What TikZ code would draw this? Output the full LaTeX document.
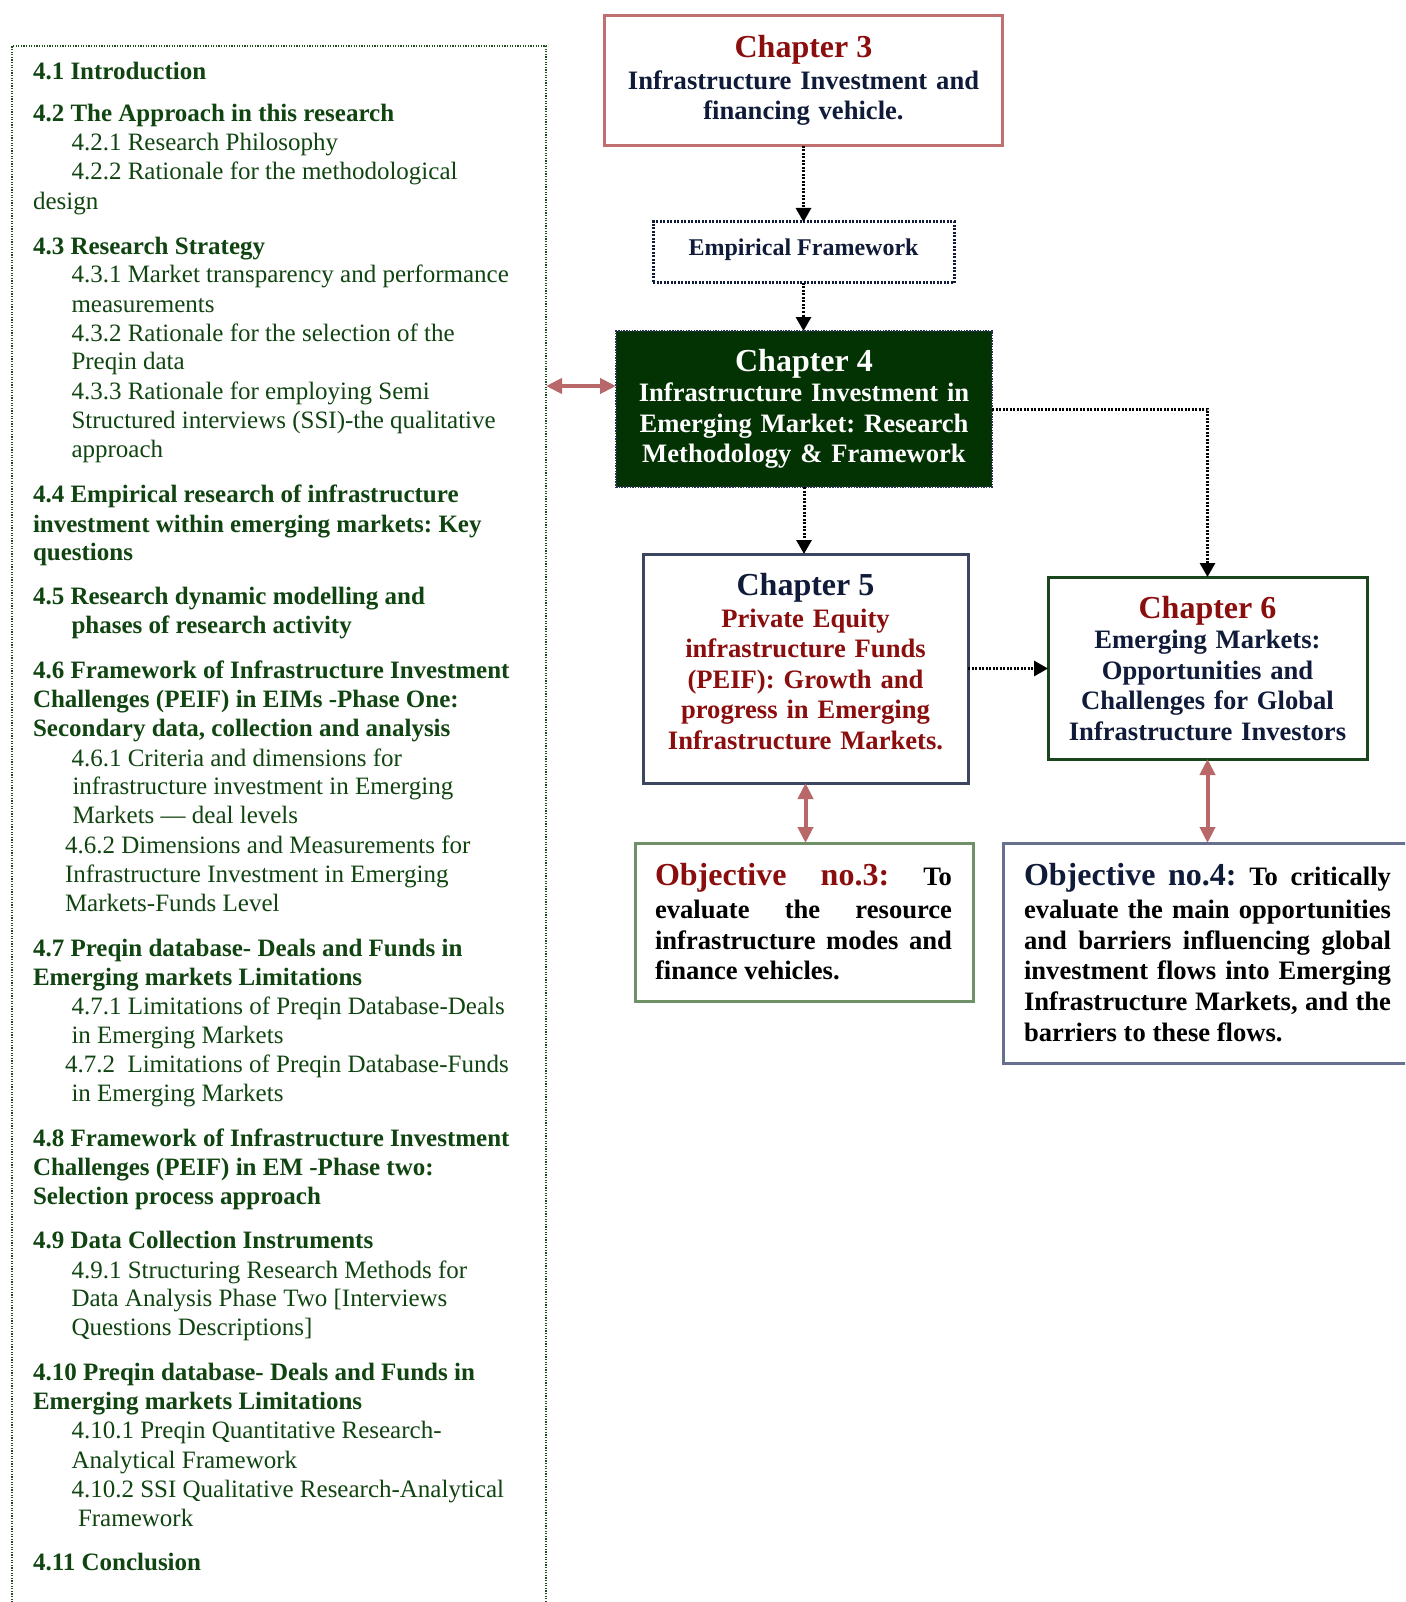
\documentclass[tikz,border=0pt]{standalone}
\usepackage{fontspec}
\setmainfont{Liberation Serif}
\usetikzlibrary{arrows.meta}

\definecolor{darkred}{RGB}{139,14,14}
\definecolor{navy}{RGB}{16,27,58}
\definecolor{secgreen}{RGB}{16,68,16}
\definecolor{framegreen}{RGB}{30,80,30}
\definecolor{roseborder}{RGB}{192,112,112}
\definecolor{linkred}{RGB}{184,104,104}
\definecolor{chfourfill}{RGB}{3,50,3}
\definecolor{chfourborder}{RGB}{40,50,80}
\definecolor{chfiveborder}{RGB}{60,70,96}
\definecolor{chsixborder}{RGB}{26,70,30}
\definecolor{objthreeborder}{RGB}{112,144,104}
\definecolor{objfourborder}{RGB}{104,112,144}

% larger lead-in words of the objective boxes
\newcommand\objhead[2]{{\fontsize{32}{36}\selectfont\color{#1}#2}}

\begin{document}
\frenchspacing
\begin{tikzpicture}[x=1pt,y=-1pt,
  every node/.style={inner sep=0pt, outer sep=0pt},
  secb/.style={anchor=base west, text=secgreen, font=\fontsize{25}{28.6}\selectfont\bfseries},
  secr/.style={anchor=base west, text=secgreen, font=\fontsize{25}{28.6}\selectfont},
  chtitle/.style={anchor=base, font=\fontsize{32}{36}\selectfont\bfseries},
  chbody/.style={anchor=base, align=center, text width=370pt, font=\fontsize{26.6}{30.5}\selectfont\bfseries},
  objline/.style={anchor=base west, text=black, font=\fontsize{26.6}{30.7}\selectfont\bfseries},
  framebox/.style={draw=framegreen, line width=2.4pt, dash pattern=on 1.3pt off 1.3pt},
  chthree/.style={draw=roseborder, line width=3pt, fill=white},
  empbox/.style={draw=navy, line width=3pt, dash pattern=on 2pt off 1.5pt, fill=white},
  chfour/.style={draw=chfourborder, line width=2.2pt, dash pattern=on 1.5pt off 1.2pt, fill=chfourfill},
  chfive/.style={draw=chfiveborder, line width=3pt, fill=white},
  chsix/.style={draw=chsixborder, line width=3pt, fill=white},
  objthree/.style={draw=objthreeborder, line width=3pt, fill=white},
  objfour/.style={draw=objfourborder, line width=3pt, fill=white},
  flow/.style={draw=black, line width=3pt, dash pattern=on 2pt off 1.5pt, -{Triangle[width=15pt,length=14pt]}},
  link/.style={draw=linkred, line width=4pt, {Triangle[width=15pt,length=16pt]}-{Triangle[width=15pt,length=16pt]}}
]
\useasboundingbox (0,0) rectangle (1405,1602);
\clip (0,0) rectangle (1405,1602);
\fill[white] (0,0) rectangle (1405,1602);

% ---- chapter 4 contents frame ----
\node[framebox, anchor=north west, minimum width=534pt, minimum height=1620pt] (left) at (12,46) {};

\foreach \yy/\xx/\st/\tx [count=\i] in {
  79.5/33/secb/{4.1 Introduction},
  121.4/33/secb/{4.2 The Approach in this research},
  151/71.5/secr/{4.2.1 Research Philosophy},
  179.7/71.5/secr/{4.2.2 Rationale for the methodological},
  209.3/33/secr/{design},
  254.3/33/secb/{4.3 Research Strategy},
  282.9/71.5/secr/{4.3.1 Market transparency and performance},
  312.5/71.5/secr/{measurements},
  341.1/71.5/secr/{4.3.2 Rationale for the selection of the},
  369.7/71.5/secr/{Preqin data},
  399.3/71.5/secr/{4.3.3 Rationale for employing Semi},
  428/71.5/secr/{Structured interviews (SSI)-the qualitative},
  457.6/71.5/secr/{approach},
  502.6/33/secb/{4.4 Empirical research of infrastructure},
  532.2/33/secb/{investment within emerging markets: Key},
  560.8/33/secb/{questions},
  604.7/33/secb/{4.5 Research dynamic modelling and},
  633.3/71.5/secb/{phases of research activity},
  678.3/33/secb/{4.6 Framework of Infrastructure Investment},
  707.9/33/secb/{Challenges (PEIF) in EIMs -Phase One:},
  736.5/33/secb/{Secondary data, collection and analysis},
  766.2/71.5/secr/{4.6.1 Criteria and dimensions for},
  794.8/72.5/secr/{infrastructure investment in Emerging},
  823.4/72.5/secr/{Markets — deal levels},
  853/65/secr/{4.6.2 Dimensions and Measurements for},
  882.7/65/secr/{Infrastructure Investment in Emerging},
  911.3/65/secr/{Markets-Funds Level},
  956.2/33/secb/{4.7 Preqin database- Deals and Funds in},
  985.9/33/secb/{Emerging markets Limitations},
  1014.5/71.5/secr/{4.7.1 Limitations of Preqin Database-Deals},
  1043.1/71.5/secr/{in Emerging Markets},
  1072.7/65/secr/{4.7.2~ Limitations of Preqin Database-Funds},
  1101.3/71.5/secr/{in Emerging Markets},
  1146.3/33/secb/{4.8 Framework of Infrastructure Investment},
  1175.9/33/secb/{Challenges (PEIF) in EM -Phase two:},
  1204.5/33/secb/{Selection process approach},
  1248.5/33/secb/{4.9 Data Collection Instruments},
  1278.1/71.5/secr/{4.9.1 Structuring Research Methods for},
  1306.7/71.5/secr/{Data Analysis Phase Two [Interviews},
  1335.3/71.5/secr/{Questions Descriptions]},
  1380.3/33/secb/{4.10 Preqin database- Deals and Funds in},
  1409.9/33/secb/{Emerging markets Limitations},
  1438.5/71.5/secr/{4.10.1 Preqin Quantitative Research-},
  1468.2/71.5/secr/{Analytical Framework},
  1497.8/71.5/secr/{4.10.2 SSI Qualitative Research-Analytical},
  1526.4/78/secr/{Framework},
  1570.3/33/secb/{4.11 Conclusion}}
  {\node[\st] (line\i) at (\xx,\yy) {\tx};}

% ---- chapter boxes ----
\node[chthree, minimum width=398pt, minimum height=130pt] (ch3) at (803.5,81) {};
\node[empbox, minimum width=301pt, minimum height=61pt] (emp) at (803.5,252.5) {};
\node[chfour, minimum width=376pt, minimum height=156pt] (ch4) at (804,409) {};
\node[chfive, minimum width=325pt, minimum height=229pt] (ch5) at (805.5,668.5) {};
\node[chsix, minimum width=319pt, minimum height=182pt] (ch6) at (1207.5,668) {};
\node[objthree, minimum width=338pt, minimum height=158pt] (obj3) at (804,922) {};
\node[objfour, minimum width=418pt, minimum height=220pt] (obj4) at (1212,953) {};

% chapter texts
\node[chtitle, text=darkred] (c3t) at (803.5,57.3) {Chapter 3};
\node[chbody, text=navy] (c3b) at (803.5,89.3) {Infrastructure Investment and\\financing vehicle.};

\node[anchor=base, text=navy, font=\fontsize{24}{28}\selectfont\bfseries] (empt) at (803.5,256) {Empirical Framework};

\node[chtitle, text=white] (c4t) at (804,371.5) {Chapter 4};
\node[chbody, text=white] (c4b) at (804,401.7) {Infrastructure Investment in\\Emerging Market: Research\\Methodology \& Framework};

\node[chtitle, text=navy] (c5t) at (805.5,595) {Chapter 5};
\node[chbody, text=darkred] (c5b) at (805.5,627.3) {Private Equity\\infrastructure Funds\\(PEIF): Growth and\\progress in Emerging\\Infrastructure Markets.};

\node[chtitle, text=darkred] (c6t) at (1207.5,618.3) {Chapter 6};
\node[chbody, text=navy] (c6b) at (1207.5,648.5) {Emerging Markets:\\Opportunities and\\Challenges for Global\\Infrastructure Investors};

% objective texts
\node[objline, text width=297pt] (o3h) at (655,885)
  {\objhead{darkred}{Objective}\hfill\objhead{darkred}{no.3:}\hfill To};
\node[objline, text width=297pt, align=justify] (o3b) at (655,918.5)
  {evaluate the resource\linebreak infrastructure modes and\linebreak finance vehicles.};

\node[objline, text width=367pt] (o4h) at (1024,885)
  {\objhead{navy}{Objective}\hfill\objhead{navy}{no.4:}\hfill To\hfill critically};
\node[objline, text width=367pt, align=justify] (o4b) at (1024,918.5)
  {evaluate the main opportunities\linebreak and barriers influencing global\linebreak investment flows into Emerging\linebreak Infrastructure Markets, and the\linebreak barriers to these flows.};

% ---- connectors ----
\draw[flow] (ch3.south) -- (ch3.south |- emp.north);
\draw[flow] (emp.south) -- (emp.south |- ch4.north);
\draw[flow] (ch4.south) -- (ch4.south |- ch5.north);
\draw[flow] (ch4.east) -| (ch6.north);
\draw[flow] (ch5.east) -- (ch5.east -| ch6.west);

\coordinate (c4link) at ([yshift=23pt]ch4.west);
\draw[link] (c4link -| left.east) -- (c4link);
\draw[link] (ch5.south) -- (ch5.south |- obj3.north);
\draw[link] (ch6.south) -- (ch6.south |- obj4.north);
\end{tikzpicture}
\end{document}
